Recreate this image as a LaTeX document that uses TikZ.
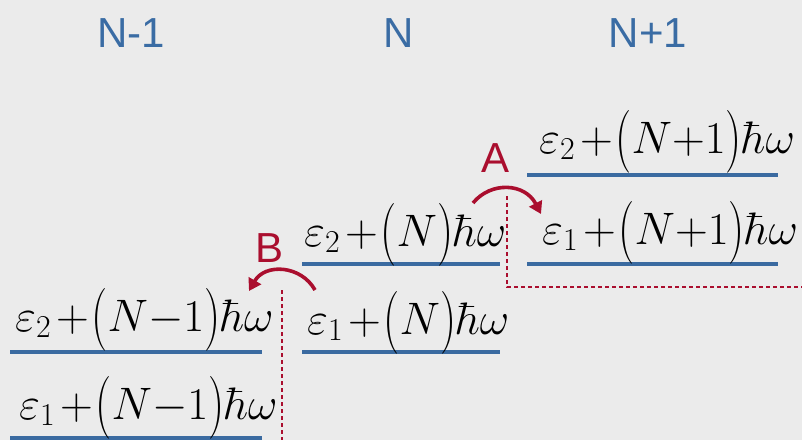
\RequirePackage{fix-cm}
\documentclass[tikz,border=0pt]{standalone}
\usepackage{fontspec}
\setsansfont{Liberation Sans}
\usetikzlibrary{arrows.meta}
\definecolor{bgc}{RGB}{235,235,235}
\definecolor{hblue}{RGB}{58,108,164}
\definecolor{lblue}{RGB}{58,106,160}
\definecolor{dred}{RGB}{170,14,46}
\newcommand{\tallopen}{\mathopen{\vcenter{\hbox{\scalebox{1}[1.38]{(}}}}}
\newcommand{\tallclose}{\mathclose{\vcenter{\hbox{\scalebox{1}[1.38]{)}}}}}
\newcommand{\lev}[2]{$\varepsilon_{#1}\mskip2mu{+}\mskip1mu\tallopen N#2\tallclose\hbar\omega$}
\tikzset{
  hdr/.style={font=\sffamily\fontsize{42}{48}\selectfont, text=hblue, anchor=base, inner sep=0pt},
  lbl/.style={font=\sffamily\fontsize{42}{48}\selectfont, text=dred, anchor=base, inner sep=0pt},
  energy/.style={font=\fontsize{45.5}{52}\selectfont, anchor=base west, inner sep=0pt},
  levline/.style={draw=lblue, line width=3.6pt},
  hop/.style={draw=dred, line width=3.6pt, -{Triangle[length=12pt,width=14pt]}},
  guide/.style={draw=dred, line width=1.3pt, dash pattern=on 4pt off 3pt}
}
\begin{document}
\begin{tikzpicture}[x=1pt,y=-1pt]
\fill[bgc] (0,0) rectangle (802,440);
\useasboundingbox (0,0) rectangle (802,440);
% headers
\node[hdr] (hm) at (131,47) {N-1};
\node[hdr] (hn) at (399,47) {N};
\node[hdr] (hp) at (648,47) {N+1};
% guide lines
\coordinate (ga0) at (507,196);
\coordinate (ga1) at (507,287);
\coordinate (ga2) at (802,287);
\coordinate (gb0) at (282,290);
\coordinate (gb1) at (282,440);
\draw[guide] (ga0) -- (ga1) -- (ga2);
\draw[guide] (gb0) -- (gb1);
% level lines
\coordinate (p2a) at (527,175); \coordinate (p2b) at (778,175);
\coordinate (p1a) at (527,264); \coordinate (p1b) at (778,264);
\coordinate (n2a) at (302,264); \coordinate (n2b) at (500,264);
\coordinate (n1a) at (302,352); \coordinate (n1b) at (500,352);
\coordinate (m2a) at (10,352);  \coordinate (m2b) at (262,352);
\coordinate (m1a) at (10,438);  \coordinate (m1b) at (262,438);
\draw[levline] (p2a) -- (p2b);
\draw[levline] (p1a) -- (p1b);
\draw[levline] (n2a) -- (n2b);
\draw[levline] (n1a) -- (n1b);
\draw[levline] (m2a) -- (m2b);
\draw[levline] (m1a) -- (m1b);
% energies
\node[energy] (ep2) at (539,153) {\lev{2}{{+}1}};
\node[energy] (ep1) at (542,244) {\lev{1}{{+}1}};
\node[energy] (en2) at (304,246) {\lev{2}{}};
\node[energy] (en1) at (307,334) {\lev{1}{}};
\node[energy] (em2) at (15,331) {\lev{2}{{-}1}};
\node[energy] (em1) at (19,419) {\lev{1}{{-}1}};
% hops
\coordinate (a0) at (473,203);
\coordinate (a1) at (541,214);
\draw[hop] (a0) .. controls (491,181) and (525,183) .. (a1);
\coordinate (b0) at (315,290);
\coordinate (b1) at (249,291);
\draw[hop] (b0) .. controls (301,265) and (265,263) .. (b1);
\node[lbl] (la) at (495,172) {A};
\node[lbl] (lb) at (270,262) {B};
\end{tikzpicture}
\end{document}
